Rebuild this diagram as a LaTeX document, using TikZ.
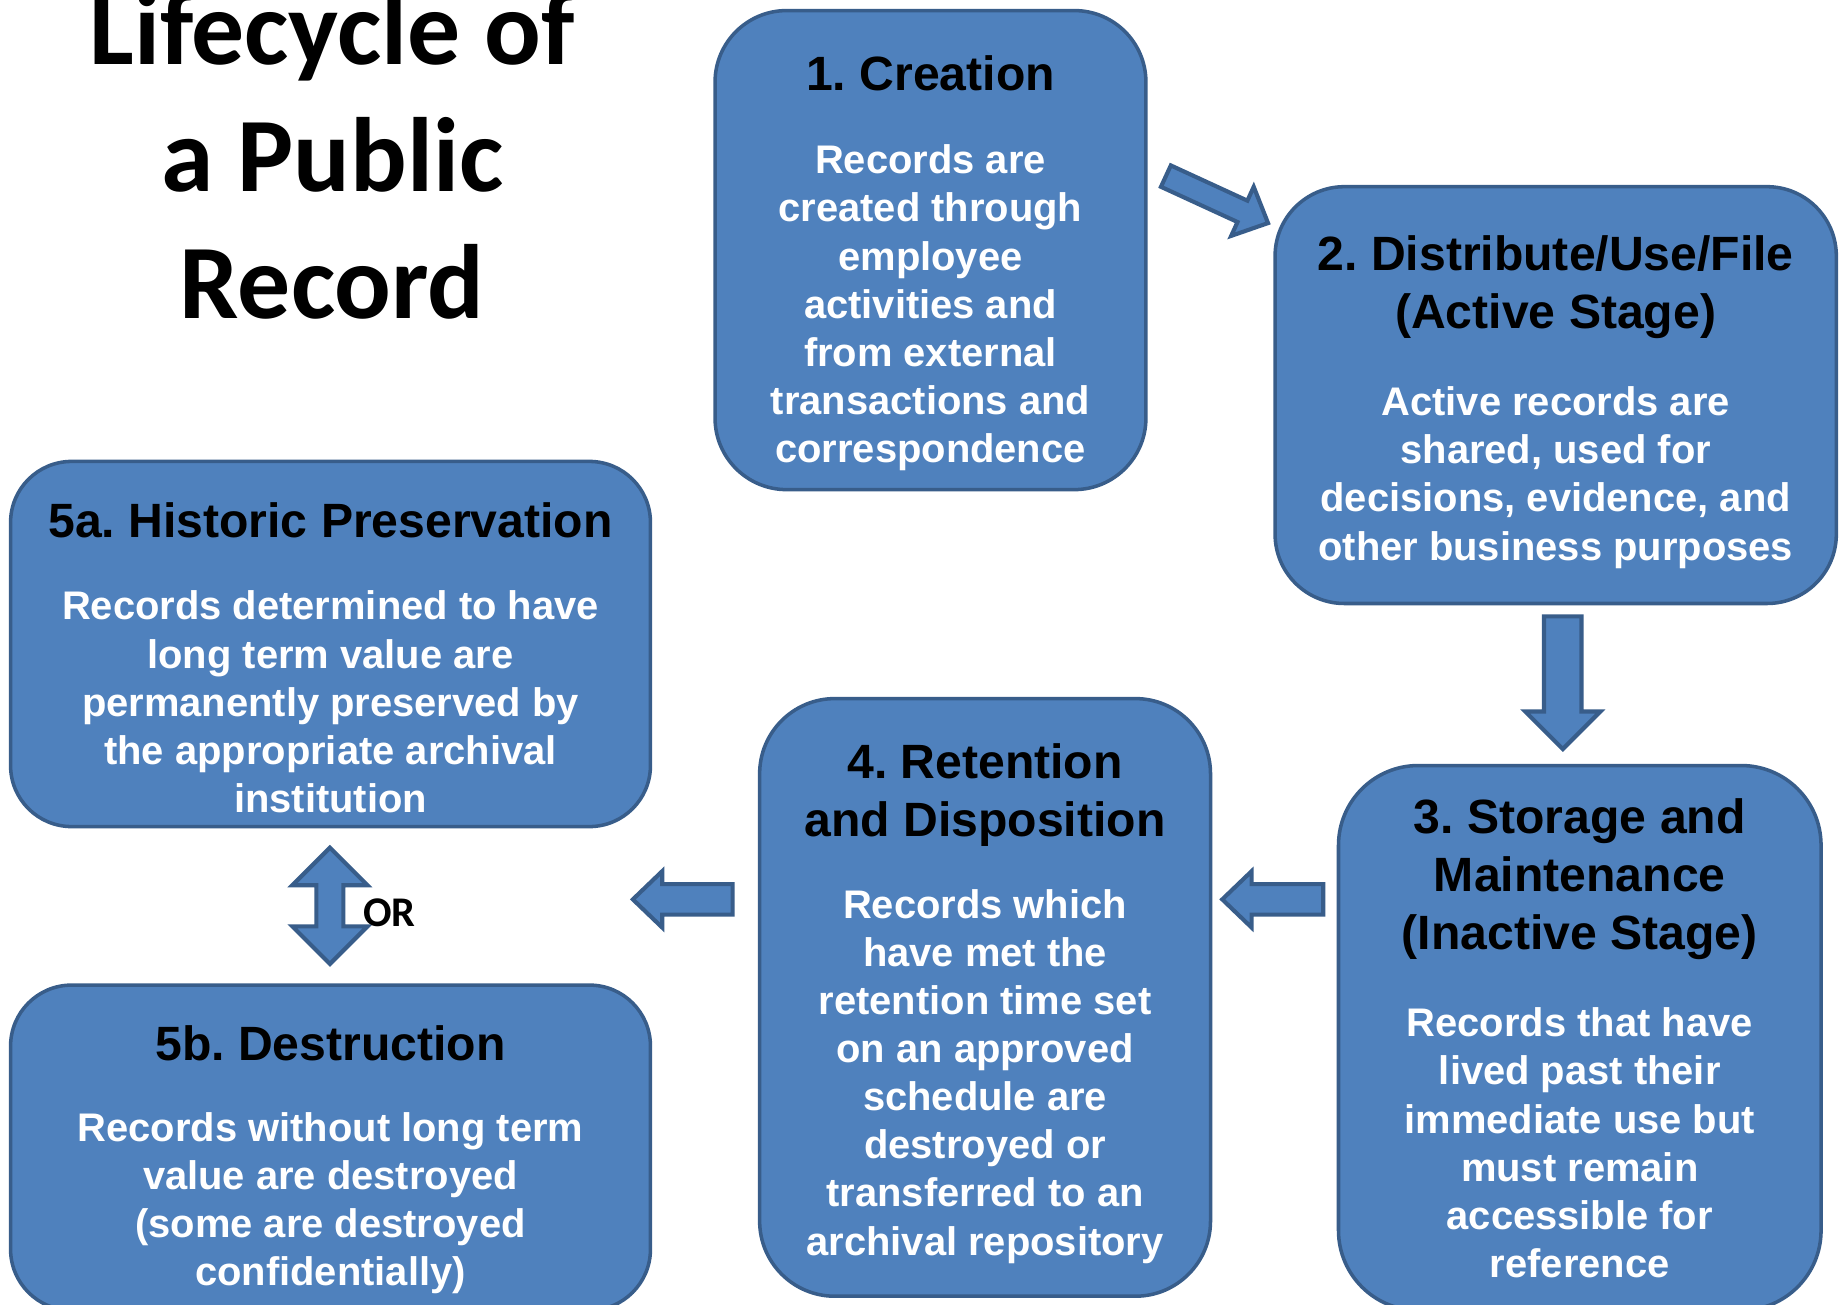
\documentclass[tikz,border=0pt]{standalone}
\usepackage{fontspec}
\setmainfont{Liberation Sans}
\newfontfamily\calfont{Carlito}
\definecolor{boxfill}{HTML}{4F81BD}
\definecolor{boxline}{HTML}{385D8A}
\frenchspacing
\tikzset{
  stage/.style={draw=boxline, fill=boxfill, line width=3pt, inner sep=0pt, rectangle},
  ttl/.style={anchor=base, inner sep=0pt, text=black, font=\bfseries\fontsize{41}{49.5}\selectfont},
  bdy/.style={anchor=base, inner sep=0pt, text=white, font=\bfseries\fontsize{34}{41}\selectfont},
  bigtitle/.style={anchor=base, inner sep=0pt, text=black, font=\calfont\bfseries\fontsize{90}{108}\selectfont},
  blk/.style={draw=boxline, fill=boxfill, line width=3.5pt, line join=miter},
}
\newcommand\lines[1]{\parbox[t]{560pt}{\frenchspacing\centering #1\par}}
\begin{document}
\begin{tikzpicture}[x=1pt, y=-1pt]
\clip (0,0) rectangle (1568,1111);
\useasboundingbox (0,0) rectangle (1568,1111);
\fill[white] (0,0) rectangle (1568,1111);

% title
\node[bigtitle] (ttl1) at (283,55) {Lifecycle of};
\node[bigtitle] (ttl2) at (283,163) {a Public};
\node[bigtitle] (ttl3) at (283,271) {Record};

% boxes
\node[stage, rounded corners=61pt, minimum width=367pt, minimum height=408pt] (s1) at (792.5,213) {};
\node[stage, rounded corners=59pt, minimum width=478pt, minimum height=355pt] (s2) at (1325,336.5) {};
\node[stage, rounded corners=68pt, minimum width=411pt, minimum height=464pt] (s3) at (1345.5,884) {};
\node[stage, rounded corners=64pt, minimum width=384pt, minimum height=509pt] (s4) at (839,849.5) {};
\node[stage, rounded corners=52pt, minimum width=545pt, minimum height=311pt] (s5a) at (281.5,548.5) {};
\node[stage, rounded corners=52pt, minimum width=545pt, minimum height=277pt] (s5b) at (281.5,977.5) {};

% box texts
\node[ttl] (t1) at (792.5,77) {\lines{1. Creation}};
\node[bdy] (b1) at (792.5,148) {\lines{Records are\\created through\\employee\\activities and\\from external\\transactions and\\correspondence}};

\node[ttl] (t2) at (1325,230) {\lines{2. Distribute/Use/File\\(Active Stage)}};
\node[bdy] (b2) at (1325,354) {\lines{Active records are\\shared, used for\\decisions, evidence, and\\other business purposes}};

\node[ttl] (t3) at (1345.5,710) {\lines{3. Storage and\\Maintenance\\(Inactive Stage)}};
\node[bdy] (b3) at (1345.5,883) {\lines{Records that have\\lived past their\\immediate use but\\must remain\\accessible for\\reference}};

\node[ttl] (t4) at (839,663) {\lines{4. Retention\\and Disposition}};
\node[bdy] (b4) at (839,782) {\lines{Records which\\have met the\\retention time set\\on an approved\\schedule are\\destroyed or\\transferred to an\\archival repository}};

\node[ttl] (t5a) at (281.5,458) {\lines{5a. Historic Preservation}};
\node[bdy] (b5a) at (281.5,528) {\lines{Records determined to have\\long term value are\\permanently preserved by\\the appropriate archival\\institution}};

\node[ttl] (t5b) at (281.5,903) {\lines{5b. Destruction}};
\node[bdy] (b5b) at (281.5,972) {\lines{Records without long term\\value are destroyed\\(some are destroyed\\confidentially)}};

% block arrows
% 1 -> 2 (diagonal)
\draw[blk] (988.8,159.1) -- (997.2,140.9) -- (1062.4,170.9) -- (1067.8,159.1) -- (1080,190)
  -- (1048.6,200.9) -- (1054.0,189.1) -- cycle;
% 2 -> 3 (down)
\draw[blk] (1315,525) -- (1347,525) -- (1347,606) -- (1363,606) -- (1331,638)
  -- (1299,606) -- (1315,606) -- cycle;
% 3 -> 4 (left)
\draw[blk] (1127,753) -- (1066,753) -- (1066,742) -- (1041,766) -- (1066,790)
  -- (1066,779) -- (1127,779) -- cycle;
% 4 -> 5 (left)
\draw[blk] (624,753) -- (564,753) -- (564,742) -- (539,766) -- (564,790)
  -- (564,779) -- (624,779) -- cycle;
% 5a <-> 5b
\draw[blk] (281,722) -- (313,754) -- (292.5,754) -- (292.5,789) -- (313,789) -- (281,821)
  -- (249,789) -- (269.5,789) -- (269.5,754) -- (249,754) -- cycle;
\node[anchor=base west, inner sep=0pt, font=\calfont\bfseries\fontsize{36}{43}\selectfont] (orlbl) at (309,789) {OR};
\end{tikzpicture}
\end{document}
